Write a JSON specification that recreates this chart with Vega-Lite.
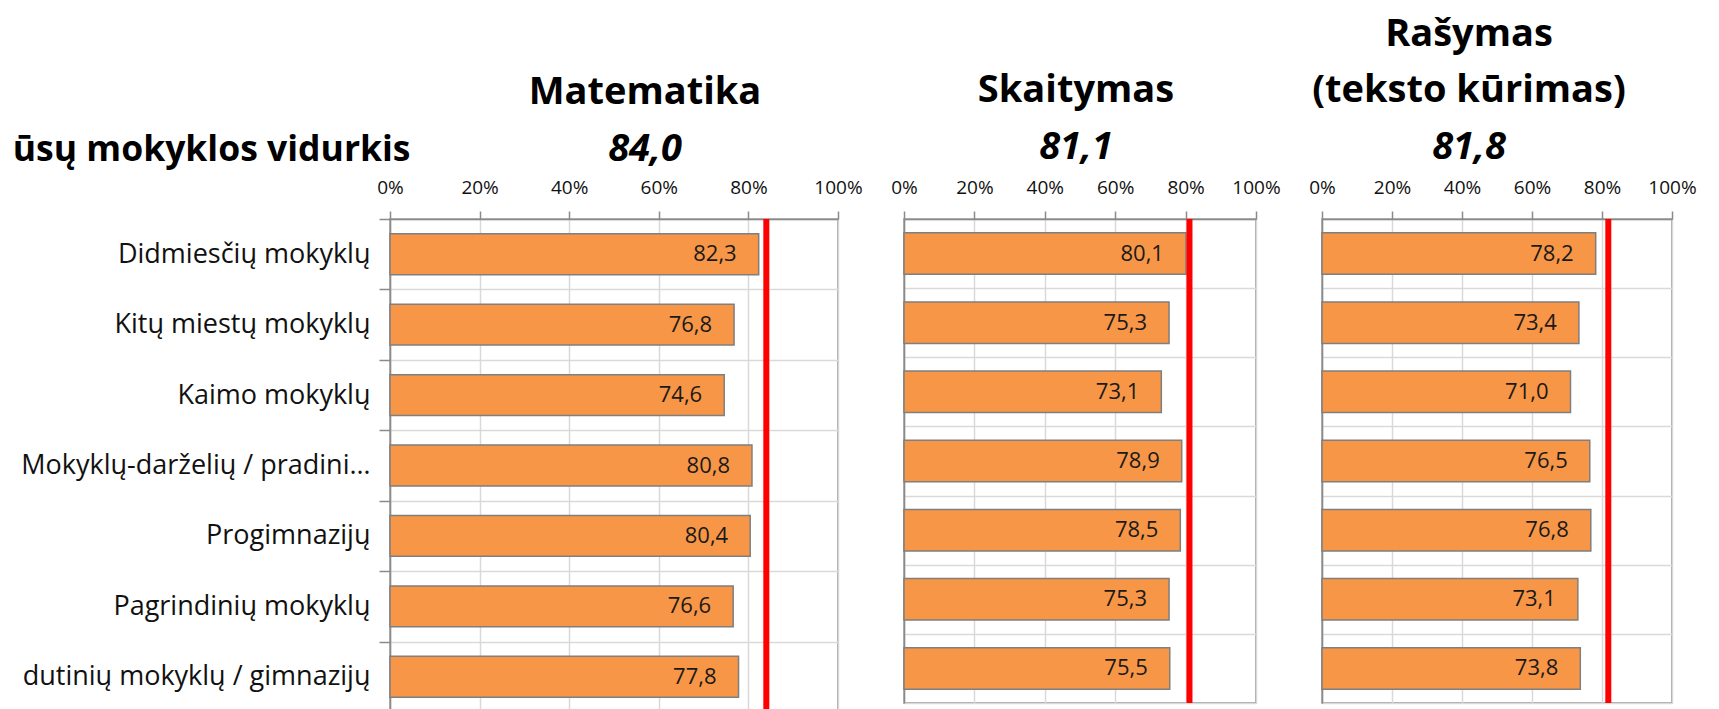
{
  "$schema": "https://vega.github.io/schema/vega-lite/v6.json",
  "background": "white",
  "padding": {"left": 11, "top": 15, "right": 0, "bottom": 0},
  "bounds": "flush",
  "spacing": 66,
  "datasets": {
    "scores": [
      {"subject": "Matematika", "category": "Didmiesčių mokyklų", "value": 82.3},
      {"subject": "Matematika", "category": "Kitų miestų mokyklų", "value": 76.8},
      {"subject": "Matematika", "category": "Kaimo mokyklų", "value": 74.6},
      {"subject": "Matematika", "category": "Mokyklų-darželių / pradinių mokyklų", "value": 80.8},
      {"subject": "Matematika", "category": "Progimnazijų", "value": 80.4},
      {"subject": "Matematika", "category": "Pagrindinių mokyklų", "value": 76.6},
      {"subject": "Matematika", "category": "dutinių mokyklų / gimnazijų", "value": 77.8},
      {"subject": "Skaitymas", "category": "Didmiesčių mokyklų", "value": 80.1},
      {"subject": "Skaitymas", "category": "Kitų miestų mokyklų", "value": 75.3},
      {"subject": "Skaitymas", "category": "Kaimo mokyklų", "value": 73.1},
      {"subject": "Skaitymas", "category": "Mokyklų-darželių / pradinių mokyklų", "value": 78.9},
      {"subject": "Skaitymas", "category": "Progimnazijų", "value": 78.5},
      {"subject": "Skaitymas", "category": "Pagrindinių mokyklų", "value": 75.3},
      {"subject": "Skaitymas", "category": "dutinių mokyklų / gimnazijų", "value": 75.5},
      {"subject": "Rašymas", "category": "Didmiesčių mokyklų", "value": 78.2},
      {"subject": "Rašymas", "category": "Kitų miestų mokyklų", "value": 73.4},
      {"subject": "Rašymas", "category": "Kaimo mokyklų", "value": 71.0},
      {"subject": "Rašymas", "category": "Mokyklų-darželių / pradinių mokyklų", "value": 76.5},
      {"subject": "Rašymas", "category": "Progimnazijų", "value": 76.8},
      {"subject": "Rašymas", "category": "Pagrindinių mokyklų", "value": 73.1},
      {"subject": "Rašymas", "category": "dutinių mokyklų / gimnazijų", "value": 73.8}
    ],
    "refs": [
      {"subject": "Matematika", "avg": 84.0},
      {"subject": "Skaitymas", "avg": 81.1},
      {"subject": "Rašymas", "avg": 81.8}
    ]
  },
  "config": {
    "locale": {"number": {"decimal": ",", "thousands": " ", "grouping": [3], "currency": ["", " €"]}},
    "font": "Open Sans",
    "view": {"stroke": "#8a8a8a", "strokeWidth": 1.5, "fill": "white"},
    "title": {
      "font": "Open Sans", "fontSize": 38, "fontWeight": "bold", "color": "#000",
      "subtitleFont": "Open Sans", "subtitleFontSize": 38, "subtitleFontWeight": "bold",
      "subtitleFontStyle": "italic", "subtitleColor": "#000", "subtitlePadding": 19,
      "anchor": "middle", "frame": "group", "offset": 11, "lineHeight": 56
    },
    "axisX": {
      "orient": "top", "labelExpr": "datum.value + '%'",
      "labelFontSize": 19, "labelColor": "#111", "labelFlush": false, "labelOverlap": false,
      "labelPadding": 14, "domainColor": "#8a8a8a", "domainWidth": 1.5, "tickColor": "#8a8a8a",
      "tickWidth": 1.5, "tickSize": 8, "grid": true, "gridColor": "#d9d9d9", "gridWidth": 1.5, "title": null
    },
    "axisY": {
      "tickBand": "extent", "grid": true, "gridColor": "#d9d9d9", "gridWidth": 1.5,
      "domainColor": "#8a8a8a", "domainWidth": 1.5, "tickColor": "#8a8a8a", "tickWidth": 1.5, "tickSize": 11,
      "labelFontSize": 27, "labelColor": "#111", "labelPadding": 9, "labelLimit": 358
    }
  },
  "hconcat": [
    {
      "width": 448, "height": 493,
      "title": {"text": "Matematika", "subtitle": "84,0", "dx": 31, "offset": -37},
      "layer": [
        {
          "data": {"name": "scores"},
          "transform": [{"filter": "datum.subject === 'Matematika'"}],
          "mark": {"type": "bar", "height": {"band": 0.58}, "fill": "#F79646", "stroke": "#7f7f7f", "strokeWidth": 1.5},
          "encoding": {
            "y": {"field": "category", "type": "nominal",
                  "sort": ["Didmiesčių mokyklų", "Kitų miestų mokyklų", "Kaimo mokyklų", "Mokyklų-darželių / pradinių mokyklų", "Progimnazijų", "Pagrindinių mokyklų", "dutinių mokyklų / gimnazijų"],
                  "scale": {"paddingInner": 0, "paddingOuter": 0},
                  "axis": {"title": "ūsų mokyklos vidurkis", "titleAngle": 0, "titleAlign": "right", "titleBaseline": "alphabetic",
                           "titleX": 20, "titleY": -59, "titleFontSize": 35.5, "titleFontWeight": "bold", "titleColor": "#000", "titleFont": "Open Sans"}},
            "x": {"field": "value", "type": "quantitative", "scale": {"domain": [0, 100]}, "axis": {"values": [0, 20, 40, 60, 80, 100]}}
          }
        },
        {
          "data": {"name": "scores"},
          "transform": [{"filter": "datum.subject === 'Matematika'"}],
          "mark": {"type": "text", "align": "right", "baseline": "middle", "dx": -22, "fontSize": 22, "color": "#1a1a1a"},
          "encoding": {
            "y": {"field": "category", "type": "nominal", "sort": ["Didmiesčių mokyklų", "Kitų miestų mokyklų", "Kaimo mokyklų", "Mokyklų-darželių / pradinių mokyklų", "Progimnazijų", "Pagrindinių mokyklų", "dutinių mokyklų / gimnazijų"]},
            "x": {"field": "value", "type": "quantitative", "axis": {"values": [0, 20, 40, 60, 80, 100]}},
            "text": {"field": "value", "type": "quantitative", "format": ".1f"}
          }
        },
        {
          "data": {"name": "refs"},
          "transform": [{"filter": "datum.subject === 'Matematika'"}],
          "mark": {"type": "rule", "color": "#ff0000", "strokeWidth": 6},
          "encoding": {"x": {"field": "avg", "type": "quantitative", "axis": {"values": [0, 20, 40, 60, 80, 100]}}}
        }
      ]
    },
    {
      "width": 352, "height": 484,
      "title": {"text": "Skaitymas", "subtitle": "81,1", "dx": -4},
      "layer": [
        {
          "data": {"name": "scores"},
          "transform": [{"filter": "datum.subject === 'Skaitymas'"}],
          "mark": {"type": "bar", "height": {"band": 0.6}, "fill": "#F79646", "stroke": "#7f7f7f", "strokeWidth": 1.5},
          "encoding": {
            "y": {"field": "category", "type": "nominal",
                  "sort": ["Didmiesčių mokyklų", "Kitų miestų mokyklų", "Kaimo mokyklų", "Mokyklų-darželių / pradinių mokyklų", "Progimnazijų", "Pagrindinių mokyklų", "dutinių mokyklų / gimnazijų"],
                  "scale": {"paddingInner": 0, "paddingOuter": 0},
                  "axis": {"labels": false, "ticks": false, "title": null}},
            "x": {"field": "value", "type": "quantitative", "scale": {"domain": [0, 100]}, "axis": {"values": [0, 20, 40, 60, 80, 100]}}
          }
        },
        {
          "data": {"name": "scores"},
          "transform": [{"filter": "datum.subject === 'Skaitymas'"}],
          "mark": {"type": "text", "align": "right", "baseline": "middle", "dx": -22, "fontSize": 22, "color": "#1a1a1a"},
          "encoding": {
            "y": {"field": "category", "type": "nominal", "sort": ["Didmiesčių mokyklų", "Kitų miestų mokyklų", "Kaimo mokyklų", "Mokyklų-darželių / pradinių mokyklų", "Progimnazijų", "Pagrindinių mokyklų", "dutinių mokyklų / gimnazijų"]},
            "x": {"field": "value", "type": "quantitative", "axis": {"values": [0, 20, 40, 60, 80, 100]}},
            "text": {"field": "value", "type": "quantitative", "format": ".1f"}
          }
        },
        {
          "data": {"name": "refs"},
          "transform": [{"filter": "datum.subject === 'Skaitymas'"}],
          "mark": {"type": "rule", "color": "#ff0000", "strokeWidth": 6},
          "encoding": {"x": {"field": "avg", "type": "quantitative", "axis": {"values": [0, 20, 40, 60, 80, 100]}}}
        }
      ]
    },
    {
      "width": 350, "height": 484,
      "title": {"text": ["Rašymas", "(teksto kūrimas)"], "subtitle": "81,8", "dx": -28},
      "layer": [
        {
          "data": {"name": "scores"},
          "transform": [{"filter": "datum.subject === 'Rašymas'"}],
          "mark": {"type": "bar", "height": {"band": 0.6}, "fill": "#F79646", "stroke": "#7f7f7f", "strokeWidth": 1.5},
          "encoding": {
            "y": {"field": "category", "type": "nominal",
                  "sort": ["Didmiesčių mokyklų", "Kitų miestų mokyklų", "Kaimo mokyklų", "Mokyklų-darželių / pradinių mokyklų", "Progimnazijų", "Pagrindinių mokyklų", "dutinių mokyklų / gimnazijų"],
                  "scale": {"paddingInner": 0, "paddingOuter": 0},
                  "axis": {"labels": false, "ticks": false, "title": null}},
            "x": {"field": "value", "type": "quantitative", "scale": {"domain": [0, 100]}, "axis": {"values": [0, 20, 40, 60, 80, 100]}}
          }
        },
        {
          "data": {"name": "scores"},
          "transform": [{"filter": "datum.subject === 'Rašymas'"}],
          "mark": {"type": "text", "align": "right", "baseline": "middle", "dx": -22, "fontSize": 22, "color": "#1a1a1a"},
          "encoding": {
            "y": {"field": "category", "type": "nominal", "sort": ["Didmiesčių mokyklų", "Kitų miestų mokyklų", "Kaimo mokyklų", "Mokyklų-darželių / pradinių mokyklų", "Progimnazijų", "Pagrindinių mokyklų", "dutinių mokyklų / gimnazijų"]},
            "x": {"field": "value", "type": "quantitative", "axis": {"values": [0, 20, 40, 60, 80, 100]}},
            "text": {"field": "value", "type": "quantitative", "format": ".1f"}
          }
        },
        {
          "data": {"name": "refs"},
          "transform": [{"filter": "datum.subject === 'Rašymas'"}],
          "mark": {"type": "rule", "color": "#ff0000", "strokeWidth": 6},
          "encoding": {"x": {"field": "avg", "type": "quantitative", "axis": {"values": [0, 20, 40, 60, 80, 100]}}}
        }
      ]
    }
  ]
}
